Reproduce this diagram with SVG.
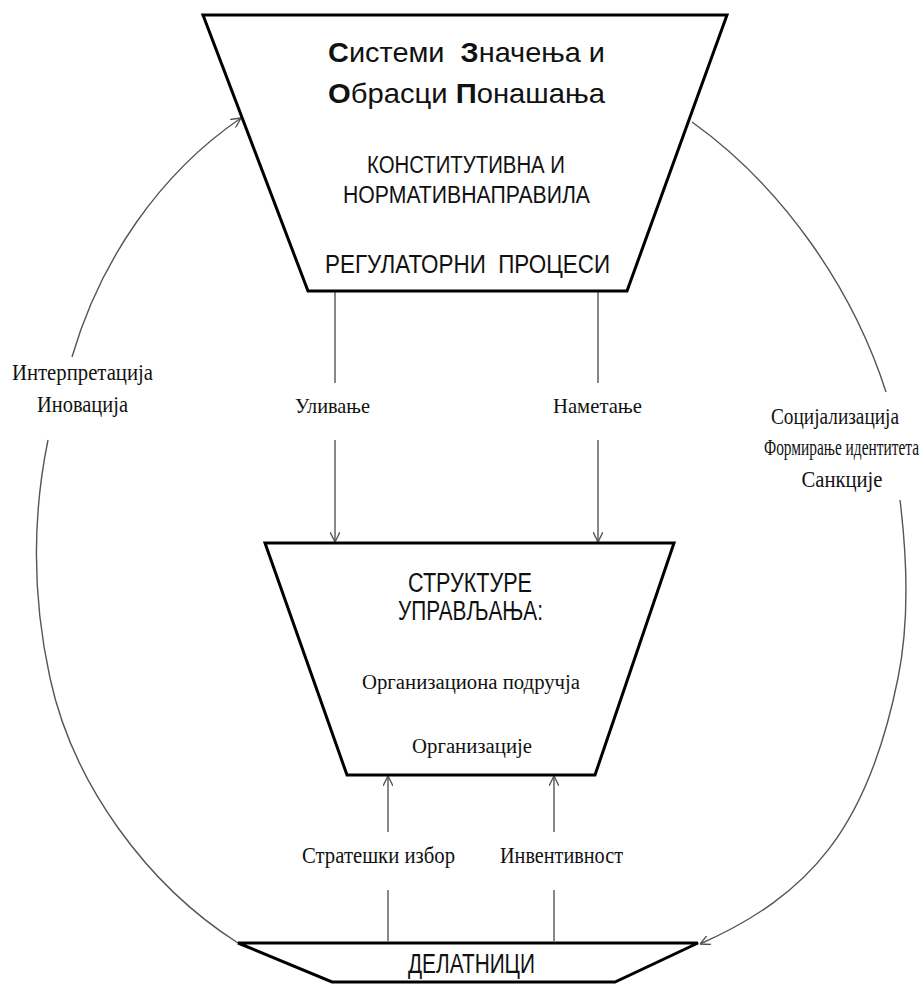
<svg xmlns="http://www.w3.org/2000/svg" width="924" height="984" viewBox="0 0 924 984">
<style>
.shape{fill:#fff;stroke:#000;stroke-width:3;stroke-linejoin:miter}
.conn{fill:none;stroke:#555;stroke-width:1.4}
.sans{font-family:"Liberation Sans",Arial,sans-serif;fill:#111;text-anchor:middle}
.serif{font-family:"Liberation Serif","Times New Roman",serif;fill:#111;text-anchor:middle}
.b{font-weight:bold}
.pre{white-space:pre}
</style>
<defs>
<marker id="arr" viewBox="0 0 10 10" refX="10" refY="5" markerWidth="10" markerHeight="10" markerUnits="userSpaceOnUse" orient="auto">
<path d="M0,0 L10,5 L0,10" fill="none" stroke="#555" stroke-width="1.4"/>
</marker>
</defs>
<g id="connectors">
<path class="conn" d="M335,291 V383"/>
<path class="conn" d="M335,440 V542" marker-end="url(#arr)"/>
<path class="conn" d="M598,291 V383"/>
<path class="conn" d="M598,440 V542" marker-end="url(#arr)"/>
<path class="conn" d="M388,941 V890"/>
<path class="conn" d="M388,832 V776" marker-end="url(#arr)"/>
<path class="conn" d="M554,941 V890"/>
<path class="conn" d="M554,832 V776" marker-end="url(#arr)"/>
<path class="conn" d="M72,357 C100,261 159,174 241,118" marker-end="url(#arr)"/>
<path class="conn" d="M48,440 C32,518 33,600 50,678 C73,784 147,885 238,943"/>
<path class="conn" d="M692,122 C783,187 853,289 886,392"/>
<path class="conn" d="M900,500 C907,557 910,619 898,678 C868,828 810,895 700,944" marker-end="url(#arr)"/>
</g>
<g id="top">
<polygon class="shape" points="203,15 727,15 627,291 308,291"/>
<text class="sans pre" x="466.5" y="62" font-size="28" textLength="277" lengthAdjust="spacingAndGlyphs"><tspan class="b">С</tspan>истеми  <tspan class="b">З</tspan>начења и</text>
<text class="sans" x="466.5" y="103" font-size="28" textLength="277" lengthAdjust="spacingAndGlyphs"><tspan class="b">О</tspan>брасци <tspan class="b">П</tspan>онашања</text>
<text class="sans" x="466" y="173" font-size="23" textLength="198" lengthAdjust="spacingAndGlyphs">КОНСТИТУТИВНА И</text>
<text class="sans" x="466.5" y="203" font-size="23" textLength="247" lengthAdjust="spacingAndGlyphs">НОРМАТИВНАПРАВИЛА</text>
<text class="sans pre" x="467.5" y="273" font-size="25" textLength="285" lengthAdjust="spacingAndGlyphs">РЕГУЛАТОРНИ  ПРОЦЕСИ</text>
</g>
<g id="middle">
<polygon class="shape" points="265,543 674,543 595,775 347,775"/>
<text class="sans" x="470" y="592" font-size="27" textLength="124" lengthAdjust="spacingAndGlyphs">СТРУКТУРЕ</text>
<text class="sans" x="470.5" y="620" font-size="27" textLength="145" lengthAdjust="spacingAndGlyphs">УПРАВЉАЊА:</text>
<text class="serif" x="471" y="689" font-size="20" textLength="218" lengthAdjust="spacingAndGlyphs">Организациона подручја</text>
<text class="serif" x="472" y="753" font-size="20" textLength="120" lengthAdjust="spacingAndGlyphs">Организације</text>
</g>
<g id="bottom">
<polygon class="shape" points="238,943 698,943 615,982 332,982"/>
<text class="sans" x="471.5" y="973" font-size="27" textLength="127" lengthAdjust="spacingAndGlyphs">ДЕЛАТНИЦИ</text>
</g>
<g id="labels">
<text class="serif" x="332.5" y="413" font-size="22" textLength="75" lengthAdjust="spacingAndGlyphs">Уливање</text>
<text class="serif" x="597.5" y="413" font-size="22" textLength="89" lengthAdjust="spacingAndGlyphs">Наметање</text>
<text class="serif" x="82.5" y="380" font-size="24" textLength="141" lengthAdjust="spacingAndGlyphs">Интерпретација</text>
<text class="serif" x="82.5" y="412" font-size="24" textLength="91" lengthAdjust="spacingAndGlyphs">Иновација</text>
<text class="serif" x="835" y="424" font-size="24" textLength="128" lengthAdjust="spacingAndGlyphs">Социјализација</text>
<text class="serif" x="841.5" y="455" font-size="24" textLength="155" lengthAdjust="spacingAndGlyphs">Формирање идентитета</text>
<text class="serif" x="842" y="487" font-size="24" textLength="81" lengthAdjust="spacingAndGlyphs">Санкције</text>
<text class="serif" x="378.5" y="863" font-size="24" textLength="153" lengthAdjust="spacingAndGlyphs">Стратешки избор</text>
<text class="serif" x="561.5" y="863" font-size="24" textLength="123" lengthAdjust="spacingAndGlyphs">Инвентивност</text>
</g>
</svg>
